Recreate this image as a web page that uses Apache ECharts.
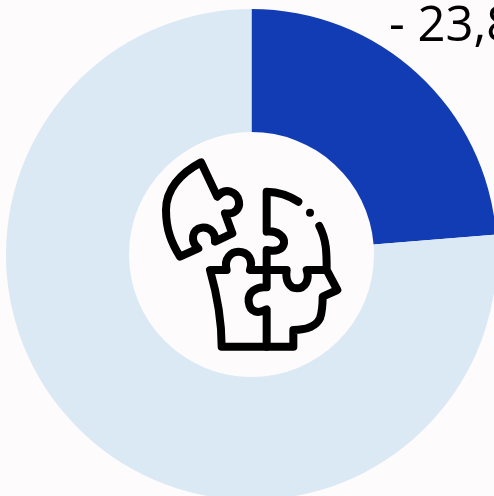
<!DOCTYPE html>
<html><head><meta charset="utf-8">
<style>html,body{margin:0;padding:0;background:#fdfbfc;overflow:hidden}#c{width:494px;height:496px}</style>
<script src="https://cdn.jsdelivr.net/npm/echarts@6/dist/echarts.min.js"></script>
</head><body><div id="c"></div>
<script>
const categories = ['Change', 'Rest'];
const values = [23.7, 76.3];
const colors = ['#123cb4', '#dbe9f5'];
const labelText = '- 23,8%';
const chart = echarts.init(document.getElementById('c'), null, {renderer:'canvas'});
const iconStyle = {fill:'none', stroke:'#000', lineWidth:24, lineCap:'round', lineJoin:'round'};
const iconPaths = [
 'M213 97 C150 130 108 180 108 240 C108 300 125 340 150 380 L205 355 C180 335 185 297 215 293 C245 290 258 315 255 335 L307 310 L285 250 C315 255 330 235 327 215 C322 185 285 170 262 200 Z',
 'M505 215 C475 195 445 186 410 185 L410 305 C440 300 465 320 462 340 C458 362 435 365 410 360 L410 472 C375 468 353 490 356 515 C360 548 385 552 410 538 L410 650',
 'M568 288 C590 330 590 370 590 420 L622 480 L578 500 C578 520 578 540 570 565 C555 595 520 600 490 600 L490 650 L275 650 C275 570 260 490 240 420 L290 420 C280 385 305 365 325 365 C355 365 370 390 360 420 L470 420 C465 455 480 475 500 475 C525 475 540 450 530 420 L590 420'
];
chart.setOption({
  animation:false,
  backgroundColor:'#fdfbfc',
  series:[{
    type:'pie', center:[251.5,254.5], radius:[122.5,245.5], startAngle:90, clockwise:true,
    label:{show:false}, labelLine:{show:false}, silent:true,
    emphasis:{disabled:true},
    itemStyle:{borderWidth:0},
    data:categories.map((n,i)=>({name:n,value:values[i],itemStyle:{color:colors[i]}}))
  },{
    type:'custom', coordinateSystem:'none', silent:true, z:5, data:[[0]],
    renderItem:()=>({type:'group', x:130, y:130, scaleX:1/3, scaleY:1/3,
      children:iconPaths.map(d=>({type:'path', shape:{pathData:d}, style:iconStyle}))
        .concat([{type:'circle', shape:{cx:540,cy:248,r:12}, style:{fill:'#000'}}])})
  }],
  graphic:[
    {type:'text', z:10, x:389, y:3, style:{text:labelText, font:'49px "Open Sans"', fill:'#000'}}
  ]
});
</script></body></html>
